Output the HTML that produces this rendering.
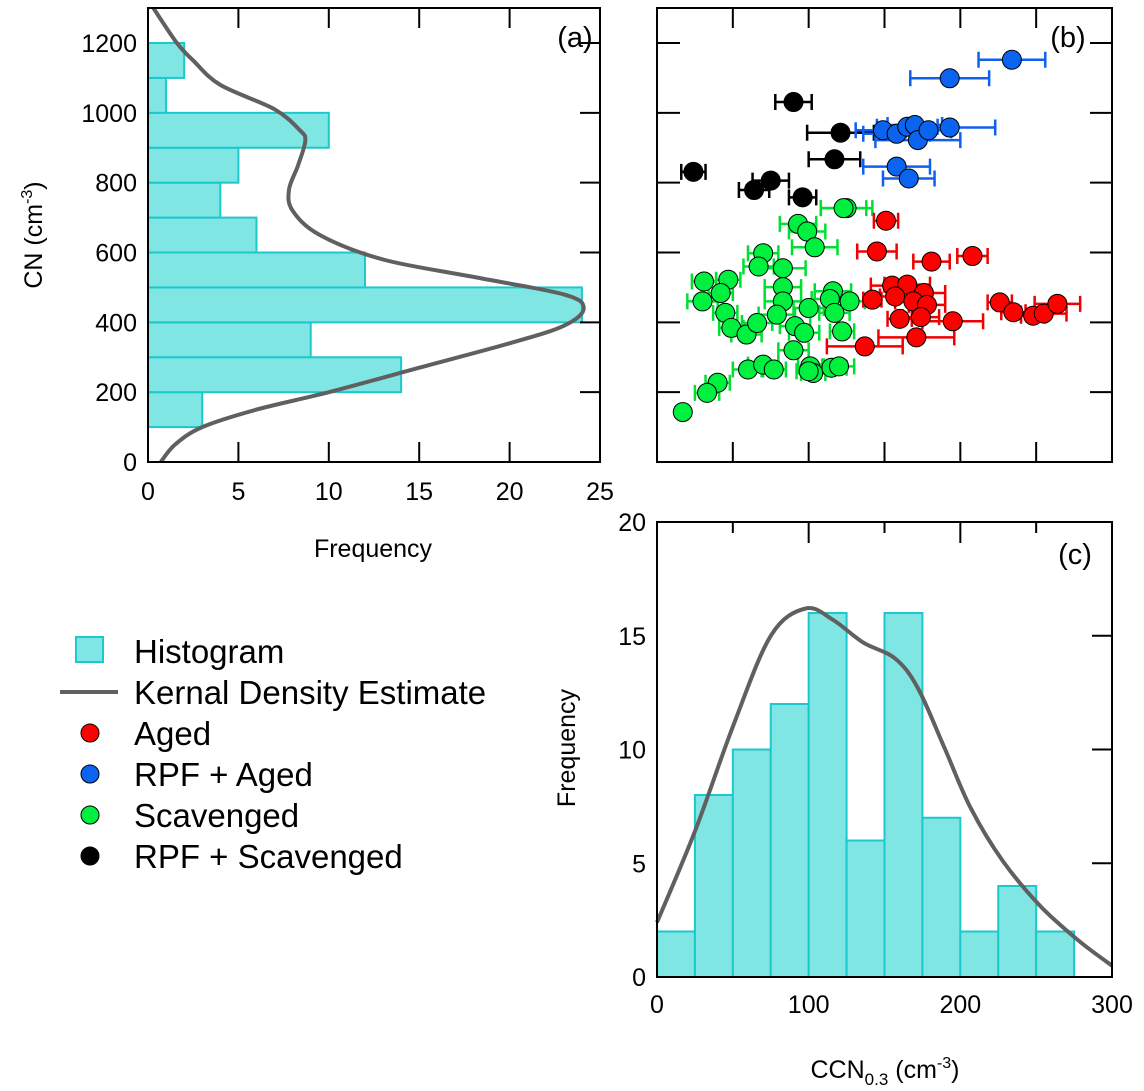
<!DOCTYPE html>
<html><head><meta charset="utf-8"><style>
body{margin:0;background:#fff}
svg{display:block;font-family:"Liberation Sans",sans-serif}
</style></head><body>
<svg id="chart" width="1144" height="1091" viewBox="0 0 1144 1091" xmlns="http://www.w3.org/2000/svg">
<g id="pa"></g>
<g id="pb"></g>
<g id="pc"></g>
<g id="legend">
 <rect x="76" y="637" width="27" height="25" fill="#80e6e4" stroke="#1cc8cc" stroke-width="2"/>
 <text x="134" y="663" font-size="33">Histogram</text>
 <line x1="60" y1="692" x2="118" y2="692" stroke="#606060" stroke-width="4"/>
 <text x="134" y="704" font-size="33">Kernal Density Estimate</text>
 <circle cx="90" cy="733" r="9" fill="#ff0000" stroke="#000"/>
 <text x="134" y="745" font-size="33">Aged</text>
 <circle cx="90" cy="774" r="9" fill="#0a64f0" stroke="#000"/>
 <text x="134" y="786" font-size="33">RPF + Aged</text>
 <circle cx="90" cy="815" r="9" fill="#00f040" stroke="#000"/>
 <text x="134" y="827" font-size="33">Scavenged</text>
 <circle cx="90" cy="856" r="9" fill="#000" stroke="#000"/>
 <text x="134" y="868" font-size="33">RPF + Scavenged</text>
</g>
</svg>
<script>
// Panel (a) data
const cnBinStarts = [100,200,300,400,500,600,700,800,900,1000,1100];
const cnBinCounts = [3,14,9,24,12,6,4,5,10,1,2];
const kdeA_cn = [0,50,100,150,200,270,340,390,440,480,530,580,650,720,780,850,920,950,1010,1080,1150,1200,1300];
const kdeA_freq = [0.7,1.5,3,6,10,15,20,23,24.1,23,18,13,9.5,8,7.8,8.3,8.7,8.4,7,4,2.5,1.6,0.3];
const aXTicks = [0,5,10,15,20,25];
const aYTicks = [0,200,400,600,800,1000,1200];
// Panel (b) data
const agedX = [151,145,181,208,155,165,157,176,169,178,142,160,174,195,226,235,248,255,264,171,137];
const agedY = [691,603,574,590,505,508,474,484,460,450,465,410,415,403,457,429,419,425,453,357,331];
const agedErr = [8,13,12,10,14,15,10,14,12,12,6,8,12,20,8,8,8,15,15,25,25];
const rpfAgedX = [234,193,149,158,165,170,172,179,193,158,166];
const rpfAgedY = [1152,1099,950,940,960,965,922,950,958,846,812];
const rpfAgedErr = [22,26,18,22,20,18,28,15,30,22,17];
const scavX = [125,123,93,99,104,70,67,83,31,47,42,30,83,83,116,114,127,100,117,45,49,59,66,79,91,97,122,90,60,70,77,101,103,100,115,120,40,33,17];
const scavY = [727,727,682,660,615,598,560,555,517,522,484,460,501,460,489,467,460,441,427,427,384,365,398,422,389,370,374,320,265,279,265,274,255,260,270,274,227,198,143];
const scavErr = [17,15,12,12,15,10,10,15,8,8,8,10,12,12,12,12,10,10,10,8,8,10,10,12,10,10,8,10,10,10,8,8,8,8,10,10,8,8,0];
const rpfScavX = [90,121,117,24,75,64,96];
const rpfScavY = [1031,943,867,831,806,779,758];
const rpfScavErr = [12,22,17,8,12,10,9];
// Panel (c) data
const ccnBinStarts = [0,25,50,75,100,125,150,175,200,225,250];
const ccnBinCounts = [2,8,10,12,16,6,16,7,2,4,2];
const kdeC_x = [0,25,50,75,98,116,136,157,172,190,207,228,253,278,300];
const kdeC_y = [2.4,6.4,11.0,15.0,16.2,15.7,14.7,14.0,12.7,10.0,7.4,5.1,3.1,1.6,0.5];
const cXTicks = [0,100,200,300];
const cYTicks = [0,5,10,15,20];

const NS="http://www.w3.org/2000/svg";
function mk(parent,tag,attrs,text){const e=document.createElementNS(NS,tag);for(const k in attrs)e.setAttribute(k,attrs[k]);if(text!==undefined)e.textContent=text;parent.appendChild(e);return e;}
function smooth(pts){
  let d='M'+pts[0][0].toFixed(1)+','+pts[0][1].toFixed(1);
  for(let i=0;i<pts.length-1;i++){
    const p0=pts[Math.max(0,i-1)],p1=pts[i],p2=pts[i+1],p3=pts[Math.min(pts.length-1,i+2)];
    const c1=[p1[0]+(p2[0]-p0[0])/6,p1[1]+(p2[1]-p0[1])/6];
    const c2=[p2[0]-(p3[0]-p1[0])/6,p2[1]-(p3[1]-p1[1])/6];
    d+=`C${c1[0].toFixed(1)},${c1[1].toFixed(1)} ${c2[0].toFixed(1)},${c2[1].toFixed(1)} ${p2[0].toFixed(1)},${p2[1].toFixed(1)}`;
  }
  return d;
}

const cnY = v => 462 - v*(419/1200);
const aX = v => 148 + v*(452/25);
const ccnX = v => 657 + v*(455/300);
const cY = v => 977 - v*(455/20);

// ---------- Panel a
const pa=document.getElementById('pa');
for(let i=0;i<cnBinStarts.length;i++){
  const r=mk(pa,'rect',{x:aX(0),y:cnY(cnBinStarts[i]+100),width:aX(cnBinCounts[i])-aX(0),height:cnY(cnBinStarts[i])-cnY(cnBinStarts[i]+100),fill:'#80e6e4',stroke:'#1cc8cc','stroke-width':2});
  
  
}
{
  const pts=kdeA_cn.map((c,i)=>[aX(kdeA_freq[i]),cnY(c)]);
  const p=mk(pa,'path',{d:smooth(pts),fill:'none',stroke:'#606060','stroke-width':4,'stroke-linejoin':'round'});
  
  
}
mk(pa,'rect',{x:0,y:0,width:148,height:8,fill:'#fff'});
mk(pa,'rect',{x:148,y:8,width:452,height:454,fill:'none',stroke:'#000','stroke-width':2});
aXTicks.forEach(t=>{
  const x=aX(t);
  if(t>0&&t<25){mk(pa,'line',{x1:x,y1:462,x2:x,y2:442,stroke:'#000','stroke-width':2});mk(pa,'line',{x1:x,y1:8,x2:x,y2:28,stroke:'#000','stroke-width':2});}
  const l=mk(pa,'text',{x:x,y:500,'font-size':25,'text-anchor':'middle'},String(t));
  
  
});
aYTicks.forEach(t=>{
  const y=cnY(t);
  if(t>0)mk(pa,'line',{x1:600,y1:y,x2:580,y2:y,stroke:'#000','stroke-width':2});
  const l=mk(pa,'text',{x:137,y:y+9,'font-size':25,'text-anchor':'end'},String(t));
  
  
});
{const t=mk(pa,'text',{x:373,y:557,'font-size':25,'text-anchor':'middle'},'Frequency');}
{const t=mk(pa,'text',{transform:'translate(42,235) rotate(-90)','font-size':25,'text-anchor':'middle'});
 t.innerHTML='CN (cm<tspan dy="-10" font-size="16">-3</tspan><tspan dy="10">)</tspan>';}
{const t=mk(pa,'text',{x:575,y:47,'font-size':29,'text-anchor':'middle'},'(a)');}

// ---------- Panel b
const pb=document.getElementById('pb');
mk(pb,'rect',{x:657,y:8,width:455,height:454,fill:'none',stroke:'#000','stroke-width':2});
[50,100,150,200,250].forEach(t=>{const x=ccnX(t);mk(pb,'line',{x1:x,y1:462,x2:x,y2:442,stroke:'#000','stroke-width':2});mk(pb,'line',{x1:x,y1:8,x2:x,y2:28,stroke:'#000','stroke-width':2});});
[200,400,600,800,1000,1200].forEach(t=>{const y=cnY(t);mk(pb,'line',{x1:657,y1:y,x2:680,y2:y,stroke:'#000','stroke-width':2});mk(pb,'line',{x1:1112,y1:y,x2:1090,y2:y,stroke:'#000','stroke-width':2});});
function series(xs,ys,es,col,ecol,name){
  for(let i=0;i<xs.length;i++){
    const y=cnY(ys[i]);
    if(es[i]>0){
      const x1=ccnX(xs[i]-es[i]),x2=ccnX(xs[i]+es[i]);
      const g=mk(pb,'path',{d:`M${x1},${y}H${x2}M${x1},${y-8}V${y+8}M${x2},${y-8}V${y+8}`,stroke:ecol,'stroke-width':2.5,fill:'none'});
      
      
    }
  }
  for(let i=0;i<xs.length;i++){
    const c=mk(pb,'circle',{cx:ccnX(xs[i]),cy:cnY(ys[i]),r:9.5,fill:col,stroke:'#000','stroke-width':1});
    
    
  }
}
series(scavX,scavY,scavErr,'#00f040','#00e030','scavenged');
series(agedX,agedY,agedErr,'#ff0000','#f00000','aged');
series(rpfScavX,rpfScavY,rpfScavErr,'#000','#000','rpf-scavenged');
series(rpfAgedX,rpfAgedY,rpfAgedErr,'#0a64f0','#1060f0','rpf-aged');
{const t=mk(pb,'text',{x:1068,y:47,'font-size':29,'text-anchor':'middle'},'(b)');}

// ---------- Panel c
const pc=document.getElementById('pc');
for(let i=0;i<ccnBinStarts.length;i++){
  const r=mk(pc,'rect',{x:ccnX(ccnBinStarts[i]),y:cY(ccnBinCounts[i]),width:ccnX(25)-ccnX(0),height:cY(0)-cY(ccnBinCounts[i]),fill:'#80e6e4',stroke:'#1cc8cc','stroke-width':2});
  
  
}
{
  const pts=kdeC_x.map((x,i)=>[ccnX(x),cY(kdeC_y[i])]);
  const p=mk(pc,'path',{d:smooth(pts),fill:'none',stroke:'#606060','stroke-width':4,'stroke-linejoin':'round'});
  
  
}
mk(pc,'rect',{x:657,y:522,width:455,height:455,fill:'none',stroke:'#000','stroke-width':2});
[50,100,150,200,250].forEach(t=>{const x=ccnX(t);mk(pc,'line',{x1:x,y1:522,x2:x,y2:(t%100==0?543:533),stroke:'#000','stroke-width':2});});
cXTicks.forEach(t=>{const l=mk(pc,'text',{x:ccnX(t),y:1013,'font-size':25,'text-anchor':'middle'},String(t));});
cYTicks.forEach(t=>{
  const y=cY(t);
  if(t>0&&t<20)mk(pc,'line',{x1:1112,y1:y,x2:1092,y2:y,stroke:'#000','stroke-width':2});
  const l=mk(pc,'text',{x:646,y:y+9,'font-size':25,'text-anchor':'end'},String(t));
  
  
});
{const t=mk(pc,'text',{transform:'translate(575,748) rotate(-90)','font-size':25,'text-anchor':'middle'},'Frequency');}
{const t=mk(pc,'text',{x:885,y:1078,'font-size':25,'text-anchor':'middle'});
 t.innerHTML='CCN<tspan dy="7" font-size="17">0.3</tspan><tspan dy="-7"> (cm</tspan><tspan dy="-10" font-size="16">-3</tspan><tspan dy="10">)</tspan>';}
{const t=mk(pc,'text',{x:1075,y:564,'font-size':29,'text-anchor':'middle'},'(c)');}
</script>
</body></html>
